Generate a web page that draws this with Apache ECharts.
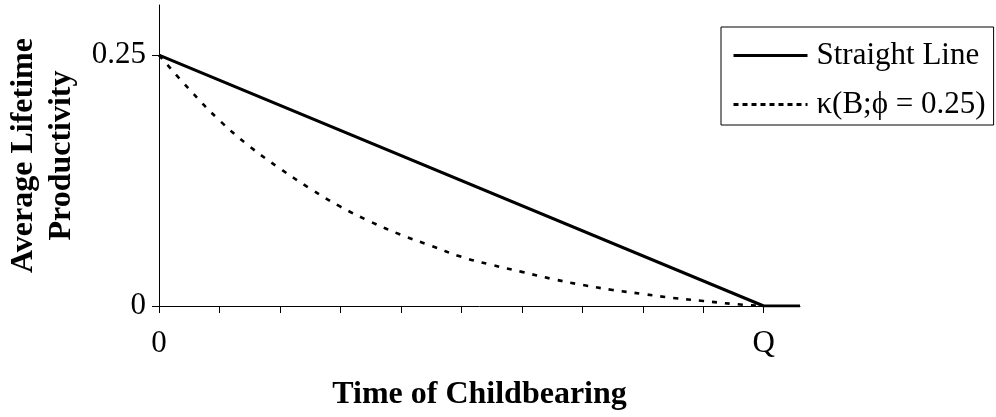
<!DOCTYPE html>
<html>
<head>
<meta charset="utf-8">
<script src="https://cdn.jsdelivr.net/npm/echarts@6/dist/echarts.min.js"></script>
<style>html,body{margin:0;padding:0;background:#fff;}#c{width:996px;height:417px;}</style>
</head>
<body>
<div id="c"></div>
<script>
// ---- data ----
var straightX = [0, 10, 10.6];
var straightY = [0.25, 0, 0];
var kappaX = [0, 0.5, 1, 1.5, 2, 2.5, 3, 3.5, 4, 4.5, 5, 5.5, 6, 6.5, 7, 7.5, 8, 8.5, 9, 9.5, 10];
var kappaY = [0.25, 0.216, 0.185, 0.159, 0.137, 0.117, 0.099, 0.084, 0.071, 0.060, 0.049, 0.041, 0.034, 0.027, 0.021, 0.016, 0.012, 0.008, 0.005, 0.002, 0];
var xTickValues = [0, 1, 2, 3, 4, 5, 6, 7, 8, 9, 10];
var xLabelValues = [0, 10];
var xLabelTexts = ['0', 'Q'];
var yTickValues = [0, 0.25];
var yLabelTexts = ['0', '0.25'];
var seriesNames = ['Straight Line', 'κ(B;ϕ = 0.25)'];

function zip(xs, ys) { return xs.map(function (x, i) { return [x, ys[i]]; }); }

var serif = '"Liberation Serif", "Times New Roman", serif';
var chart = echarts.init(document.getElementById('c'));
chart.setOption({
  animation: false,
  backgroundColor: '#fff',
  textStyle: { fontFamily: serif, color: '#000' },
  grid: { left: 159, right: 196, top: 5, bottom: 111, containLabel: false, outerBoundsMode: 'none' },
  legend: {
    orient: 'vertical',
    left: 721, top: 27,
    padding: [13, 8, 5, 11],
    itemGap: 18,
    itemWidth: 74,
    itemHeight: 14,
    borderColor: '#000', borderWidth: 1,
    backgroundColor: '#fff',
    itemStyle: { opacity: 0 },
    textStyle: { fontFamily: serif, fontSize: 31, color: '#000', padding: [0, 0, 0, 4] },
    data: [
      { name: seriesNames[0], lineStyle: { width: 3, type: 'solid', color: '#000' } },
      { name: seriesNames[1], lineStyle: { width: 3, type: [5, 4], color: '#000' } }
    ]
  },
  xAxis: {
    type: 'value', min: 0, max: 10.6,
    name: 'Time of Childbearing', nameLocation: 'middle', nameGap: 73,
    nameTextStyle: { fontFamily: serif, fontSize: 32, fontWeight: 'bold', color: '#000' },
    axisLine: { show: true, lineStyle: { color: '#000', width: 1 } },
    axisTick: { show: true, length: 7, lineStyle: { color: '#000' }, customValues: xTickValues },
    axisLabel: {
      show: true, margin: 22, fontFamily: serif, fontSize: 31, color: '#000',
      customValues: xLabelValues,
      formatter: function (v) { var i = xLabelValues.indexOf(v); return i >= 0 ? xLabelTexts[i] : ''; }
    },
    splitLine: { show: false }
  },
  yAxis: {
    type: 'value', min: 0, max: 0.3,
    name: 'Average Lifetime\nProductivity', nameLocation: 'middle', nameGap: 73,
    nameTextStyle: { fontFamily: serif, fontSize: 32, fontWeight: 'bold', color: '#000', lineHeight: 38, align: 'center' },
    axisLine: { show: true, lineStyle: { color: '#000', width: 1 } },
    axisTick: { show: true, length: 7, lineStyle: { color: '#000' }, customValues: yTickValues },
    axisLabel: {
      show: true, margin: 13, fontFamily: serif, fontSize: 31, color: '#000',
      customValues: yTickValues,
      formatter: function (v) { var i = yTickValues.indexOf(v); return i >= 0 ? yLabelTexts[i] : ''; }
    },
    splitLine: { show: false }
  },
  series: [
    {
      name: seriesNames[0], type: 'line', symbol: 'none', z: 3,
      data: zip(straightX, straightY),
      lineStyle: { color: '#000', width: 3, type: 'solid' },
      itemStyle: { color: '#000' }
    },
    {
      name: seriesNames[1], type: 'line', symbol: 'none', smooth: 0.4, z: 2,
      data: zip(kappaX, kappaY),
      lineStyle: { color: '#000', width: 2.6, type: [5, 8] },
      itemStyle: { color: '#000' }
    }
  ]
});
</script>
</body>
</html>
